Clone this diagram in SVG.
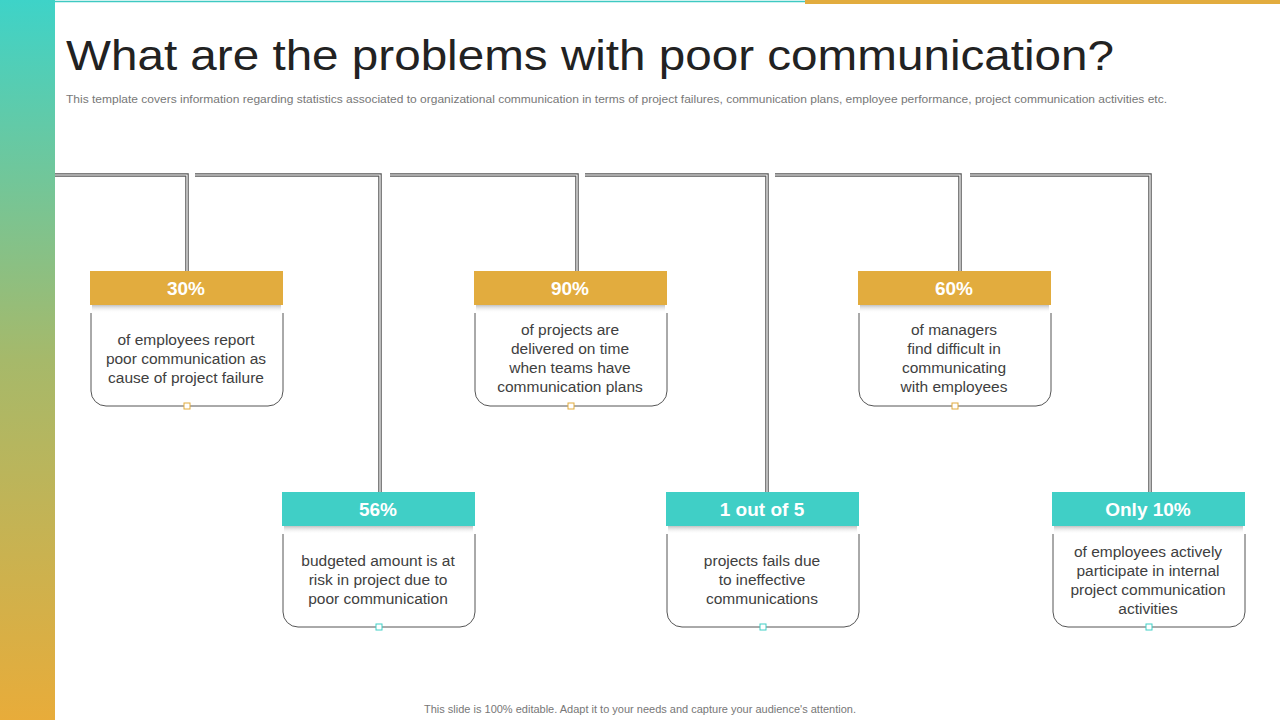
<svg xmlns="http://www.w3.org/2000/svg" width="1280" height="720" viewBox="0 0 1280 720">
<style>
.dl{fill:none;stroke:#555;stroke-width:3.5}
.dw{fill:none;stroke:#fff;stroke-width:1.2}
.hd{font-family:"Liberation Sans",Arial,sans-serif;font-size:19px;font-weight:bold;fill:#fff;text-anchor:middle}
.bd{font-family:"Liberation Sans",Arial,sans-serif;font-size:15.5px;fill:#404040;text-anchor:middle}
.body{fill:#fff;stroke:#555;stroke-width:1}
</style>
<defs>
<linearGradient id="lg" x1="0" y1="0" x2="0" y2="1">
<stop offset="0" stop-color="#3ed3c8"/><stop offset="0.5" stop-color="#a6b96a"/><stop offset="1" stop-color="#e8ac3a"/>
</linearGradient>
<linearGradient id="sh" x1="0" y1="0" x2="0" y2="1">
<stop offset="0" stop-color="#999" stop-opacity="0.6"/><stop offset="1" stop-color="#fff" stop-opacity="0"/>
</linearGradient>
</defs>
<rect width="1280" height="720" fill="#fff"/>
<rect x="0" y="0" width="55" height="720" fill="url(#lg)"/>
<line x1="55" y1="1.5" x2="805" y2="1.5" stroke="#3ec9c2" stroke-width="1.5"/>
<rect x="805" y="0" width="475" height="4" fill="#e2ac3e"/>
<text x="66" y="70" font-family="'Liberation Sans',Arial,sans-serif" font-size="42" fill="#222" textLength="1048" lengthAdjust="spacingAndGlyphs">What are the problems with poor communication?</text>
<text x="66" y="103" font-family="'Liberation Sans',Arial,sans-serif" font-size="10.5" fill="#777" textLength="1101" lengthAdjust="spacingAndGlyphs">This template covers information regarding statistics associated to organizational communication in terms of project failures, communication plans, employee performance, project communication activities etc.</text>
<g id="connectors">
<path class="dl" d="M55 175H187V271M195 175H380V492M390 175H577V271M585 175H767V492M775 175H960V271M970 175H1150V492"/>
<path class="dw" d="M55 175H187V271M195 175H380V492M390 175H577V271M585 175H767V492M775 175H960V271M970 175H1150V492"/>
</g>
<g id="n1">
<path class="body" d="M91 313V391a15 15 0 0 0 15 15H268a15 15 0 0 0 15-15V313"/>
<rect x="90" y="271" width="193" height="34" fill="#e2ac3e"/><rect x="92" y="305" width="189" height="8" fill="url(#sh)"/>
<text class="hd" x="186" y="295">30%</text>
<text class="bd" x="186" y="345">of employees report</text><text class="bd" x="186" y="364">poor communication as</text><text class="bd" x="186" y="383">cause of project failure</text>
<rect x="184" y="403" width="6" height="6" fill="#fff" stroke="#e2ac3e"/>
</g>
<g id="n2">
<path class="body" d="M475 313V391a15 15 0 0 0 15 15H652a15 15 0 0 0 15-15V313"/>
<rect x="474" y="271" width="193" height="34" fill="#e2ac3e"/><rect x="476" y="305" width="189" height="8" fill="url(#sh)"/>
<text class="hd" x="570" y="295">90%</text>
<text class="bd" x="570" y="335">of projects are</text><text class="bd" x="570" y="354">delivered on time</text><text class="bd" x="570" y="373">when teams have</text><text class="bd" x="570" y="392">communication plans</text>
<rect x="568" y="403" width="6" height="6" fill="#fff" stroke="#e2ac3e"/>
</g>
<g id="n3">
<path class="body" d="M859 313V391a15 15 0 0 0 15 15H1036a15 15 0 0 0 15-15V313"/>
<rect x="858" y="271" width="193" height="34" fill="#e2ac3e"/><rect x="860" y="305" width="189" height="8" fill="url(#sh)"/>
<text class="hd" x="954" y="295">60%</text>
<text class="bd" x="954" y="335">of managers</text><text class="bd" x="954" y="354">find difficult in</text><text class="bd" x="954" y="373">communicating</text><text class="bd" x="954" y="392">with employees</text>
<rect x="952" y="403" width="6" height="6" fill="#fff" stroke="#e2ac3e"/>
</g>
<g id="n4">
<path class="body" d="M283 534V612a15 15 0 0 0 15 15H460a15 15 0 0 0 15-15V534"/>
<rect x="282" y="492" width="193" height="34" fill="#40cfc6"/><rect x="284" y="526" width="189" height="8" fill="url(#sh)"/>
<text class="hd" x="378" y="516">56%</text>
<text class="bd" x="378" y="566">budgeted amount is at</text><text class="bd" x="378" y="585">risk in project due to</text><text class="bd" x="378" y="604">poor communication</text>
<rect x="376" y="624" width="6" height="6" fill="#fff" stroke="#40cfc6"/>
</g>
<g id="n5">
<path class="body" d="M667 534V612a15 15 0 0 0 15 15H844a15 15 0 0 0 15-15V534"/>
<rect x="666" y="492" width="193" height="34" fill="#40cfc6"/><rect x="668" y="526" width="189" height="8" fill="url(#sh)"/>
<text class="hd" x="762" y="516">1 out of 5</text>
<text class="bd" x="762" y="566">projects fails due</text><text class="bd" x="762" y="585">to ineffective</text><text class="bd" x="762" y="604">communications</text>
<rect x="760" y="624" width="6" height="6" fill="#fff" stroke="#40cfc6"/>
</g>
<g id="n6">
<path class="body" d="M1053 534V612a15 15 0 0 0 15 15H1230a15 15 0 0 0 15-15V534"/>
<rect x="1052" y="492" width="193" height="34" fill="#40cfc6"/><rect x="1054" y="526" width="189" height="8" fill="url(#sh)"/>
<text class="hd" x="1148" y="516">Only 10%</text>
<text class="bd" x="1148" y="557">of employees actively</text><text class="bd" x="1148" y="576">participate in internal</text><text class="bd" x="1148" y="595">project communication</text><text class="bd" x="1148" y="614">activities</text>
<rect x="1146" y="624" width="6" height="6" fill="#fff" stroke="#40cfc6"/>
</g>
<text x="640" y="713" text-anchor="middle" font-family="'Liberation Sans',Arial,sans-serif" font-size="11" fill="#777">This slide is 100% editable. Adapt it to your needs and capture your audience's attention.</text>
</svg>
